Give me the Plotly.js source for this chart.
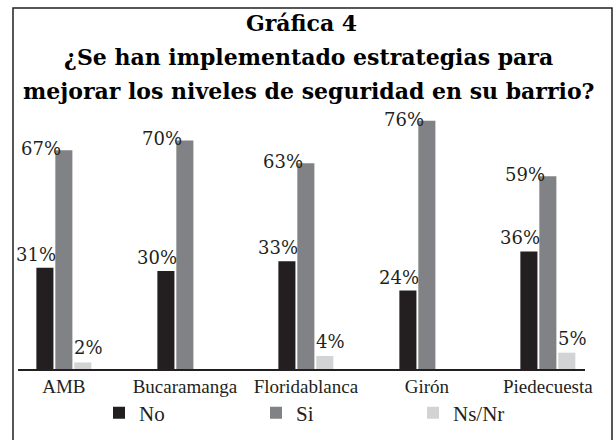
<!DOCTYPE html>
<html>
<head>
<meta charset="utf-8">
<script src="https://cdn.plot.ly/plotly-3.0.1.min.js"></script>
<style>html,body{margin:0;padding:0;background:#fff;}#chart{width:614px;height:440px;}</style>
</head>
<body>
<div id="chart"></div>
<script>
var categories = ["AMB", "Bucaramanga", "Floridablanca", "Girón", "Piedecuesta"];
var seriesNames = ["No", "Si", "Ns/Nr"];
var noValues = [31, 30, 33, 24, 36];
var siValues = [67, 70, 63, 76, 59];
var nsnrValues = [2, null, 4, null, 5];
var titleLines = ["Gráfica 4", "¿Se han implementado estrategias para", "mejorar los niveles de seguridad en su barrio?"];

var colors = ["#231f20", "#808285", "#d1d3d4"];
var allValues = [noValues, siValues, nsnrValues];
// label placement (style): horizontal shift from category centre and lift above bar top, per series
var labelXShift = [-28, -23, 25];
var labelYShift = [1, -11, 2];

var SERIF = "DejaVu Serif, serif";
var TIMES = "Liberation Serif, Times New Roman, serif";

var traces = allValues.map(function (vals, i) {
  return {
    type: "bar",
    name: seriesNames[i],
    x: categories,
    y: vals,
    marker: {color: colors[i]},
    hoverinfo: "skip"
  };
});

var annotations = [];
allValues.forEach(function (vals, i) {
  vals.forEach(function (v, j) {
    if (v === null) return;
    annotations.push({
      xref: "x", yref: "y", x: categories[j], y: v,
      text: v + "%", showarrow: false,
      xanchor: "center", yanchor: "bottom",
      xshift: labelXShift[i], yshift: labelYShift[i],
      font: {family: SERIF, size: 18, color: "#231f20"}
    });
  });
});

var L = 18, R = 29, T = 111, B = 71, W = 614, H = 440;
var pw = W - L - R, ph = H - T - B;
function px2x(px) { return (px - L) / pw; }
function py2y(py) { return (H - B - py) / ph; }
function tFont() { return {family: SERIF, size: 22, color: "#000", weight: "bold"}; }

annotations.push(
  {text: "<b>" + titleLines[1] + "</b>", font: tFont(), showarrow: false,
   xref: "paper", yref: "paper", x: px2x(308), y: py2y(57), xanchor: "center", yanchor: "middle"},
  {text: "<b>" + titleLines[2] + "</b>", font: tFont(), showarrow: false,
   xref: "paper", yref: "paper", x: px2x(308), y: py2y(91), xanchor: "center", yanchor: "middle"}
);

var layout = {
  width: W, height: H,
  margin: {l: L, r: R, t: T, b: B, pad: 0, autoexpand: false},
  paper_bgcolor: "#fff", plot_bgcolor: "#fff",
  font: {family: TIMES, color: "#231f20"},
  barmode: "group",
  bargap: 0.53,
  bargroupgap: 0.1,
  title: {
    text: "<b>" + titleLines[0] + "</b>",
    font: tFont(),
    x: 0.5, xref: "paper", xanchor: "center",
    y: 1 - 23 / H, yref: "container", yanchor: "middle"
  },
  annotations: annotations,
  xaxis: {
    type: "category",
    range: [-0.379, 4.307], autorange: false,
    showline: true, linecolor: "#231f20", linewidth: 1.5,
    ticks: "", showgrid: false, zeroline: false,
    tickfont: {family: TIMES, size: 19, color: "#231f20"},
    fixedrange: true
  },
  yaxis: {
    range: [0, 79],
    visible: false,
    showgrid: false, zeroline: false,
    fixedrange: true
  },
  showlegend: true,
  legend: {
    orientation: "h",
    x: px2x(99), xanchor: "left",
    y: py2y(413), yanchor: "middle",
    font: {family: TIMES, size: 21, color: "#231f20"},
    entrywidth: 112, entrywidthmode: "pixels",
    bgcolor: "rgba(0,0,0,0)", borderwidth: 0
  },
  shapes: [{
    type: "rect", xref: "paper", yref: "paper",
    x0: px2x(13), x1: px2x(612), y0: py2y(442), y1: py2y(8),
    line: {color: "#231f20", width: 1.5}, fillcolor: "rgba(0,0,0,0)", layer: "above"
  }]
};

Plotly.newPlot("chart", traces, layout, {displayModeBar: false, staticPlot: true});
</script>
</body>
</html>
